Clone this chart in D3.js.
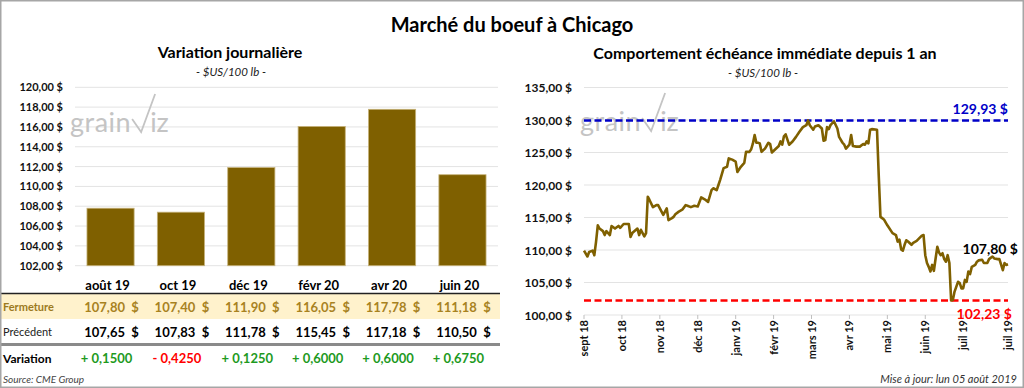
<!DOCTYPE html>
<html lang="fr">
<head>
<meta charset="UTF-8">
<title>Marché du boeuf à Chicago</title>
<script src="https://d3js.org/d3.v7.min.js"></script>
<style>
  body { margin: 0; background: #fff; }
  svg text { font-family: Lato, "Open Sans", sans-serif; }
</style>
</head>
<body>
<div id="chart"></div>
<script>
// contrats a terme (graphique de gauche + tableau)
const contracts = ["août 19", "oct 19", "déc 19", "févr 20", "avr 20", "juin 20"];
const closePrices = [107.80, 107.40, 111.90, 116.05, 117.78, 111.18];
const previousPrices = [107.65, 107.83, 111.78, 115.45, 117.18, 110.50];
const variations = [0.1500, -0.4250, 0.1250, 0.6000, 0.6000, 0.6750];
const barTicks = [102, 104, 106, 108, 110, 112, 114, 116, 118, 120];

// echeance immediate sur 1 an (jour de bourse, prix)
const tradingDays = [0, 2, 3, 5, 6, 7, 8, 9, 11, 12, 13, 15, 16, 18, 20, 21, 23, 26, 27, 28,
  31, 32, 33, 35, 36, 37, 38, 40, 42, 43, 46, 47, 48, 49, 51, 52, 53, 55, 57, 59,
  60, 62, 64, 66, 68, 70, 72, 74, 75, 77, 78, 79, 81, 83, 84, 86, 88, 89, 91, 93,
  94, 96, 97, 98, 99, 100, 101, 102, 103, 105, 107, 108, 109, 111, 113, 114, 115, 116, 117, 119,
  121, 123, 125, 127, 129, 130, 131, 133, 134, 136, 138, 139, 140, 141, 142, 143, 144, 145, 147, 148,
  150, 151, 152, 154, 155, 156, 158, 160, 162, 163, 164, 165, 166, 167, 170, 171, 172, 173, 174, 176,
  179, 181, 182, 183, 184, 185, 186, 187, 188, 190, 191, 193, 196, 197, 198, 199, 200, 201, 202, 203,
  204, 205, 206, 207, 208, 209, 210, 211, 212, 213, 214, 215, 217, 218, 219, 220, 221, 222, 223, 224,
  225, 227, 228, 229, 231, 232, 234, 235, 237, 238, 240, 241, 243, 244, 245, 246];
const nearbyPrices = [109.9, 109.0, 109.7, 109.9, 109.2, 111.3, 113.8, 113.3, 112.9, 112.3, 112.9, 112.3, 113.7, 113.3, 113.7, 113.4, 114.0, 114.0, 112.0, 112.6,
  113.3, 112.3, 113.1, 112.1, 112.6, 118.2, 117.7, 116.6, 116.9, 116.9, 115.4, 115.9, 116.4, 114.6, 114.9, 115.1, 115.5, 115.9, 116.2, 116.9,
  116.8, 116.6, 116.8, 116.7, 118.1, 117.8, 117.4, 119.2, 119.5, 119.2, 120.0, 120.8, 122.6, 122.8, 124.1, 123.9, 123.6, 122.0, 122.8, 123.4,
  125.1, 125.1, 125.5, 126.4, 127.7, 126.5, 126.5, 126.4, 125.1, 125.6, 126.5, 126.3, 125.0, 125.5, 126.0, 126.7, 126.2, 127.5, 127.8, 126.2,
  126.7, 127.4, 128.2, 128.9, 129.2, 129.93, 129.2, 128.5, 129.0, 129.2, 128.7, 126.8, 126.9, 128.9, 128.6, 129.2, 129.5, 129.8, 128.7, 127.4,
  126.5, 126.2, 125.6, 126.2, 127.7, 126.0, 125.9, 125.9, 126.3, 126.2, 126.7, 126.4, 128.5, 128.6, 128.5, 121.5, 115.1, 114.9, 114.7, 113.8,
  112.6, 112.3, 111.3, 111.6, 110.1, 109.9, 110.8, 111.5, 111.3, 110.8, 111.1, 111.4, 112.2, 112.3, 109.2, 108.0, 107.4, 106.7, 107.7, 106.8,
  108.7, 110.5, 109.6, 109.2, 109.5, 108.6, 108.2, 109.2, 108.0, 102.23, 102.3, 103.6, 105.1, 104.9, 104.1, 104.1, 105.4, 105.1, 106.7, 106.3,
  107.4, 107.7, 108.2, 108.4, 108.5, 108.0, 108.0, 108.6, 109.0, 108.7, 108.6, 108.6, 106.9, 108.0, 107.7, 107.8];
const monthLabels = ["sept 18", "oct 18", "nov 18", "déc 18", "janv 19", "févr 19", "mars 19", "avr 19", "mai 19", "juin 19", "juil 19", "juil 19"];
const monthLabelDays = [0, 22, 44, 66, 88, 110, 132, 154, 176, 198, 220, 246];
const lineTicks = [100, 105, 110, 115, 120, 125, 130, 135];
const yearHigh = 129.93;
const yearLow = 102.23;
const lastPrice = 107.80;

const W = 1024, H = 388;
const gold = "#7F6000";
const fr = d3.formatLocale({ decimal: ",", thousands: " ", grouping: [3], currency: ["", " $"] });
const f2 = fr.format(".2f");
const f4 = fr.format(".4f");
const money = v => f2(v) + " $";

const svg = d3.select("#chart").append("svg")
  .attr("width", W).attr("height", H);

svg.append("rect").attr("width", W).attr("height", H).attr("fill", "#fff");

// titre principal
svg.append("text").attr("x", 512).attr("y", 32).attr("text-anchor", "middle")
  .attr("font-size", 20).attr("font-weight", "bold").attr("fill", "#000")
  .text("Marché du boeuf à Chicago");

// logo grainViz en filigrane
function watermark(x, y) {
  const g = svg.append("g").attr("transform", `translate(${x},${y})`);
  const t = g.append("text").attr("x", 0).attr("y", 0).attr("font-size", 27)
    .attr("fill", "#c4c4c4").attr("letter-spacing", 0.5).text("grain");
  const w = t.node().getComputedTextLength();
  g.append("path").attr("d", `M${w + 1},-13 L${w + 10},0 L${w + 24},-38`).attr("fill", "none")
    .attr("stroke", "#c4c4c4").attr("stroke-width", 1.8);
  g.append("text").attr("x", w + 19).attr("y", 0).attr("font-size", 27)
    .attr("fill", "#c4c4c4").text("iz");
}

// ---------- graphique de gauche : barres ----------
svg.append("text").attr("x", 230).attr("y", 58).attr("text-anchor", "middle")
  .attr("font-size", 16).attr("font-weight", "bold").text("Variation journalière");
svg.append("text").attr("x", 231).attr("y", 76).attr("text-anchor", "middle")
  .attr("font-size", 11.5).attr("font-style", "italic").attr("fill", "#222").text("- $US/100 lb -");

const xb = d3.scaleBand().domain(contracts).range([75, 498])
  .paddingInner(0.33).paddingOuter(0.17);
const yb = d3.scaleLinear().domain([102, 120]).range([265.7, 87.3]);

svg.append("g").selectAll("line").data(barTicks).join("line")
  .attr("x1", 75).attr("x2", 498)
  .attr("y1", d => yb(d)).attr("y2", d => yb(d))
  .attr("stroke", "#e3e3e3").attr("stroke-width", 1);

svg.append("g").selectAll("text").data(barTicks).join("text")
  .attr("x", 63).attr("y", d => yb(d) + 4).attr("text-anchor", "end")
  .attr("font-size", 11).attr("font-weight", "bold").attr("fill", "#111")
  .text(d => money(d));

watermark(70, 132);

svg.append("g").selectAll("rect").data(contracts).join("rect")
  .attr("x", d => xb(d)).attr("width", xb.bandwidth())
  .attr("y", (d, i) => yb(closePrices[i]))
  .attr("height", (d, i) => yb(102) - yb(closePrices[i]))
  .attr("fill", gold).attr("stroke", "#c6b27a").attr("stroke-width", 0.8);

// tableau
const cx = d => xb(d) + xb.bandwidth() / 2;
svg.append("rect").attr("x", 1).attr("y", 294).attr("width", 499).attr("height", 25).attr("fill", "#FFF2CC");
svg.append("line").attr("x1", 1).attr("x2", 500).attr("y1", 293.5).attr("y2", 293.5)
  .attr("stroke", "#222").attr("stroke-width", 1.5);
svg.append("line").attr("x1", 1).attr("x2", 500).attr("y1", 344.5).attr("y2", 344.5)
  .attr("stroke", "#8a8a8a").attr("stroke-width", 3);

svg.append("g").selectAll("text").data(contracts).join("text")
  .attr("x", d => cx(d) - 3).attr("y", 290).attr("text-anchor", "middle")
  .attr("font-size", 13).attr("font-weight", "bold").attr("fill", "#000").text(d => d);

svg.append("text").attr("x", 3).attr("y", 311).attr("font-size", 11).attr("font-weight", "bold")
  .attr("fill", "#9C7A1E").text("Fermeture");
svg.append("g").selectAll("text").data(contracts).join("text")
  .attr("x", d => cx(d) + 1).attr("y", 312).attr("text-anchor", "middle")
  .attr("font-size", 13).attr("font-weight", "bold").attr("fill", "#A8821F")
  .style("white-space", "pre")
  .text((d, i) => f2(closePrices[i]) + "  $");

svg.append("text").attr("x", 3).attr("y", 336).attr("font-size", 11)
  .attr("fill", "#222").text("Précédent");
svg.append("g").selectAll("text").data(contracts).join("text")
  .attr("x", d => cx(d) + 1).attr("y", 337).attr("text-anchor", "middle")
  .attr("font-size", 13).attr("font-weight", "bold").attr("fill", "#000")
  .style("white-space", "pre")
  .text((d, i) => f2(previousPrices[i]) + "  $");

svg.append("text").attr("x", 3).attr("y", 363).attr("font-size", 12).attr("font-weight", "bold")
  .attr("fill", "#000").text("Variation");
svg.append("g").selectAll("text").data(contracts).join("text")
  .attr("x", d => cx(d) - 4).attr("y", 363).attr("text-anchor", "middle")
  .attr("font-size", 13).attr("font-weight", "bold")
  .attr("fill", (d, i) => variations[i] < 0 ? "#FF0000" : "#1E9A1E")
  .text((d, i) => (variations[i] < 0 ? "- " : "+ ") + f4(Math.abs(variations[i])));

svg.append("text").attr("x", 3).attr("y", 383).attr("font-size", 10).attr("font-style", "italic")
  .attr("fill", "#444").text("Source: CME Group");

// ---------- graphique de droite : echeance immediate ----------
svg.append("text").attr("x", 765).attr("y", 59).attr("text-anchor", "middle")
  .attr("font-size", 16).attr("font-weight", "bold").text("Comportement échéance immédiate depuis 1 an");
svg.append("text").attr("x", 763).attr("y", 77).attr("text-anchor", "middle")
  .attr("font-size", 11.5).attr("font-style", "italic").attr("fill", "#222").text("- $US/100 lb -");

const xl = d3.scaleLinear().domain([0, 246]).range([584, 1008]);
const yl = d3.scaleLinear().domain([100, 135]).range([315, 87.5]);

svg.append("g").selectAll("line").data(lineTicks).join("line")
  .attr("x1", 584).attr("x2", 1008)
  .attr("y1", d => yl(d)).attr("y2", d => yl(d))
  .attr("stroke", "#e3e3e3").attr("stroke-width", 1);

svg.append("g").selectAll("text").data(lineTicks).join("text")
  .attr("x", 572).attr("y", d => yl(d) + 4.5).attr("text-anchor", "end")
  .attr("font-size", 12).attr("font-weight", "bold").attr("fill", "#111")
  .text(d => money(d));

watermark(580, 131);

// axe des dates
const xAxis = svg.append("g");
xAxis.selectAll("line").data(monthLabelDays).join("line")
  .attr("x1", d => xl(d)).attr("x2", d => xl(d)).attr("y1", 315).attr("y2", 319)
  .attr("stroke", "#bfbfbf");
xAxis.selectAll("text").data(monthLabelDays).join("text")
  .attr("transform", d => `translate(${xl(d) + 4},${320}) rotate(-90)`)
  .attr("text-anchor", "end").attr("font-size", 11).attr("font-weight", "bold").attr("fill", "#111")
  .text((d, i) => monthLabels[i]);

// lignes haut / bas sur 1 an
svg.append("line").attr("x1", 584).attr("x2", 1008)
  .attr("y1", yl(yearHigh)).attr("y2", yl(yearHigh))
  .attr("stroke", "#0000C8").attr("stroke-width", 2.5).attr("stroke-dasharray", "7,3.5");
svg.append("line").attr("x1", 584).attr("x2", 1008)
  .attr("y1", yl(yearLow)).attr("y2", yl(yearLow))
  .attr("stroke", "#FF0000").attr("stroke-width", 2.5).attr("stroke-dasharray", "7,3.5");

const line = d3.line().x(d => xl(d[0])).y(d => yl(d[1]));
svg.append("path")
  .datum(tradingDays.map((d, i) => [d, nearbyPrices[i]]))
  .attr("d", line).attr("fill", "none").attr("stroke", gold)
  .attr("stroke-width", 2.6).attr("stroke-linejoin", "round");

svg.append("text").attr("x", 1008).attr("y", yl(yearHigh) - 6).attr("text-anchor", "end")
  .attr("font-size", 14).attr("font-weight", "bold").attr("fill", "#0000C8").text(money(yearHigh));
svg.append("text").attr("x", 1012).attr("y", yl(yearLow) + 18).attr("text-anchor", "end")
  .attr("font-size", 14).attr("font-weight", "bold").attr("fill", "#FF0000").text(money(yearLow));
svg.append("text").attr("x", 1018).attr("y", yl(lastPrice) - 10).attr("text-anchor", "end")
  .attr("font-size", 14).attr("font-weight", "bold").attr("fill", "#000").text(money(lastPrice));

svg.append("text").attr("x", 1017).attr("y", 383).attr("text-anchor", "end")
  .attr("font-size", 11).attr("font-style", "italic").attr("fill", "#333")
  .text("Mise à jour: lun 05 août 2019");

// cadre
svg.append("rect").attr("x", 0.75).attr("y", 0.75).attr("width", W - 1.5).attr("height", H - 1.5)
  .attr("fill", "none").attr("stroke", "#a6a6a6").attr("stroke-width", 1.5);
</script>
</body>
</html>
